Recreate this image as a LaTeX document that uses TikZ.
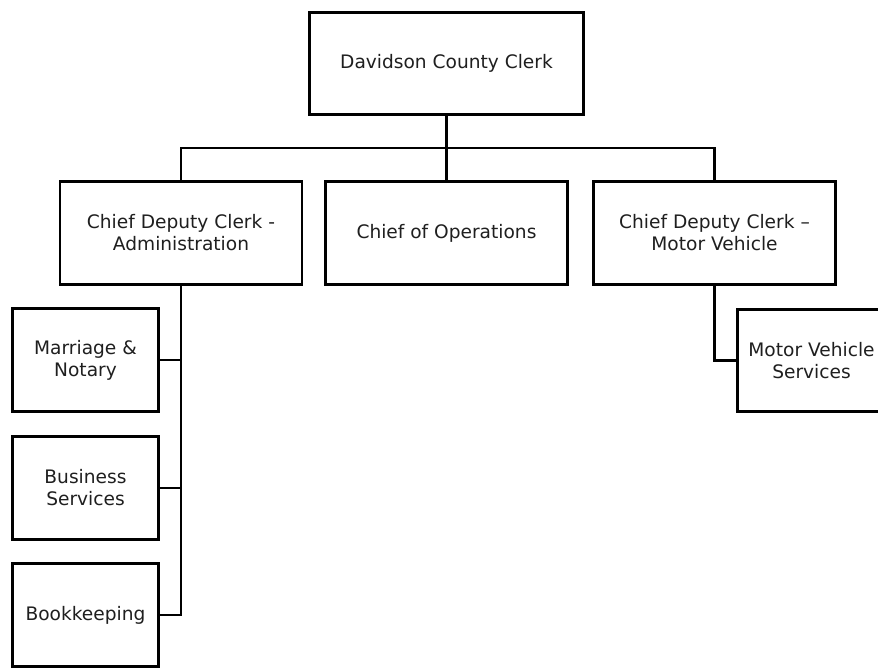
\documentclass[tikz,border=0pt]{standalone}
\usepackage{fontspec}
\setmainfont{DejaVu Sans}
\begin{document}
\begin{tikzpicture}[x=1pt,y=-1pt,
  box/.style={draw=black, line width=2.8pt, fill=white, rectangle, inner sep=0pt, outer sep=0pt,
    align=center, text=black!88, font=\fontsize{18.6}{22}\selectfont},
  wide/.style={box, minimum width=242pt, minimum height=103pt},
  small/.style={box, minimum width=146pt, minimum height=103pt},
  conn/.style={draw=black, line width=2.2pt}]
\useasboundingbox (0,0) rectangle (878,669);
\fill[white] (0,0) rectangle (878,669);
\begin{scope}
\clip (0,0) rectangle (878,669);
% top
\node[box, minimum width=274pt, minimum height=102pt] (top) at (446.5,63.5) {Davidson County Clerk};
% second level
\node[wide] (adm) at (181,233) {Chief Deputy Clerk -\\Administration};
\node[wide] (ops) at (446.5,233) {Chief of Operations};
\node[wide] (mv)  at (714.5,233) {Chief Deputy Clerk –\\Motor Vehicle};
% third level left
\node[small] (mar) at (85.5,360) {Marriage \&\\Notary};
\node[small] (bus) at (85.5,488) {Business\\Services};
\node[small] (bk)  at (85.5,615) {Bookkeeping};
% third level right
\node[box, minimum width=148pt, minimum height=102pt] (mvs) at (811.5,360.5) {Motor Vehicle\\Services};
% connectors
\coordinate (bar) at (446.5,148);
\draw[conn] (top.south) -- (bar);
\draw[conn] (bar) -- (ops.north);
\draw[conn] (bar) -| (adm.north);
\draw[conn] (bar) -| (mv.north);
\draw[conn] (adm.south) |- (bk.east);
\draw[conn] (mar.east) -- (mar.east -| adm.south);
\draw[conn] (bus.east) -- (bus.east -| adm.south);
\draw[conn] (mv.south) |- (mvs.west);
\end{scope}
\end{tikzpicture}
\end{document}
